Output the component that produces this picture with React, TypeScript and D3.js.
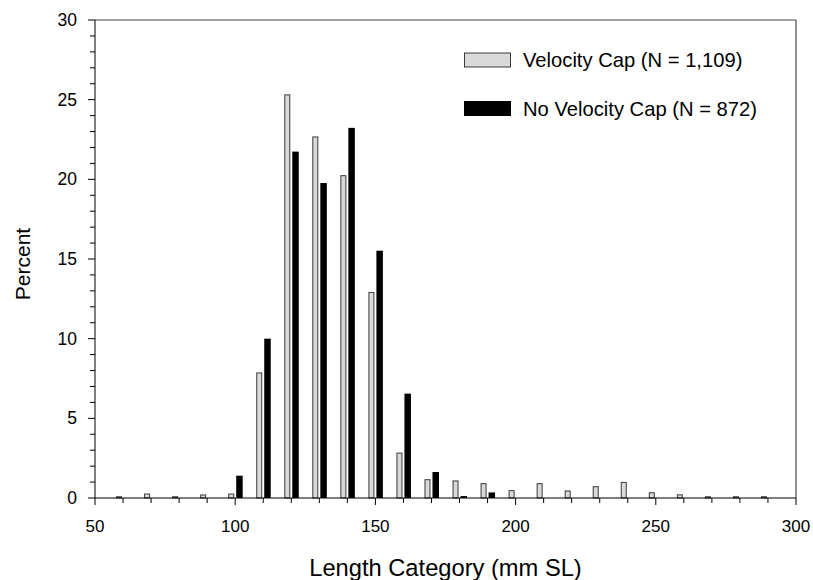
import React from "react";
import * as d3 from "d3";

const categories = [60, 70, 80, 90, 100, 110, 120, 130, 140, 150, 160, 170, 180, 190, 200, 210, 220, 230, 240, 250, 260, 270, 280, 290];
const velocityCap = [0.08, 0.25, 0.08, 0.19, 0.25, 7.85, 25.3, 22.66, 20.23, 12.9, 2.82, 1.15, 1.07, 0.9, 0.46, 0.9, 0.44, 0.71, 0.98, 0.33, 0.2, 0.08, 0.08, 0.08];
const noVelocityCap = [0, 0, 0, 0, 1.4, 10.0, 21.74, 19.77, 23.23, 15.52, 6.55, 1.63, 0.12, 0.35, 0, 0, 0, 0, 0, 0, 0, 0, 0, 0];
const xTicks = [50, 100, 150, 200, 250, 300];
const yTicks = [0, 5, 10, 15, 20, 25, 30];
const legendLabels = ["Velocity Cap (N = 1,109)", "No Velocity Cap (N = 872)"];

const W = 813;
const H = 580;
const m = { left: 95, right: 17, top: 20, bottom: 82 };
const FONT = "'Liberation Sans', Arial, sans-serif";

export default function App() {
  const x = d3.scaleLinear().domain([50, 300]).range([m.left, W - m.right]);
  const y = d3.scaleLinear().domain([0, 30]).range([H - m.bottom, m.top]);
  const x0 = x(50), x1 = x(300), y0 = y(0), y1 = y(30);
  const xMinor = d3.range(50, 301, 10).filter((v) => v % 50 !== 0);
  const yMinor = d3.range(0, 31, 1).filter((v) => v % 5 !== 0);

  return (
    <svg width={W} height={H} style={{ position: "absolute", left: 0, top: 0, background: "#fff" }} fontFamily={FONT}>
      {/* bars */}
      {categories.map((c, i) => {
        const cx = x(c);
        const g = velocityCap[i];
        const b = noVelocityCap[i];
        return (
          <g key={c}>
            {g > 0 && (
              <rect x={cx - 6.5} y={y(g)} width={5} height={y0 - y(g)} fill="#d9d9d9" stroke="#3a3a3a" strokeWidth={1} />
            )}
            {b > 0 && <rect x={cx + 1} y={y(b)} width={6.5} height={y0 - y(b)} fill="#000" />}
          </g>
        );
      })}

      {/* frame */}
      <line x1={x0} x2={x1} y1={y1} y2={y1} stroke="#444" strokeWidth={1} />
      <line x1={x1} x2={x1} y1={y1} y2={y0} stroke="#222" strokeWidth={1} />
      <line x1={x0} x2={x1} y1={y0} y2={y0} stroke="#000" strokeWidth={1} />
      <line x1={x0} x2={x0} y1={y1} y2={y0} stroke="#000" strokeWidth={1} />

      {/* x ticks */}
      {xTicks.map((t) => (
        <g key={"xt" + t}>
          <line x1={x(t)} x2={x(t)} y1={y0} y2={y0 + 7} stroke="#000" />
          <text x={x(t)} y={532} textAnchor="middle" fontSize={17} fill="#000">{t}</text>
        </g>
      ))}
      {xMinor.map((t) => (
        <line key={"xm" + t} x1={x(t)} x2={x(t)} y1={y0} y2={y0 + 5} stroke="#000" />
      ))}

      {/* y ticks */}
      {yTicks.map((t) => (
        <g key={"yt" + t}>
          <line x1={x0 - 7} x2={x0} y1={y(t)} y2={y(t)} stroke="#000" />
          <text x={77} y={y(t)} dy="0.35em" textAnchor="end" fontSize={17.5} fill="#000">{t}</text>
        </g>
      ))}
      {yMinor.map((t) => (
        <line key={"ym" + t} x1={x0 - 5} x2={x0} y1={y(t)} y2={y(t)} stroke="#000" />
      ))}

      {/* axis titles */}
      <text x={(x0 + x1) / 2} y={576} textAnchor="middle" fontSize={23.7} fill="#000">Length Category (mm SL)</text>
      <text transform={`translate(30, 264) rotate(-90)`} textAnchor="middle" fontSize={21} fill="#000">Percent</text>

      {/* legend */}
      <rect x={464.5} y={53} width={46} height={14} fill="#d9d9d9" stroke="#3a3a3a" strokeWidth={1} />
      <text x={523} y={67} fontSize={20.2} fill="#000">{legendLabels[0]}</text>
      <rect x={464} y={101} width={47} height={15} fill="#000" />
      <text x={523} y={116} fontSize={20.2} fill="#000">{legendLabels[1]}</text>
    </svg>
  );
}
